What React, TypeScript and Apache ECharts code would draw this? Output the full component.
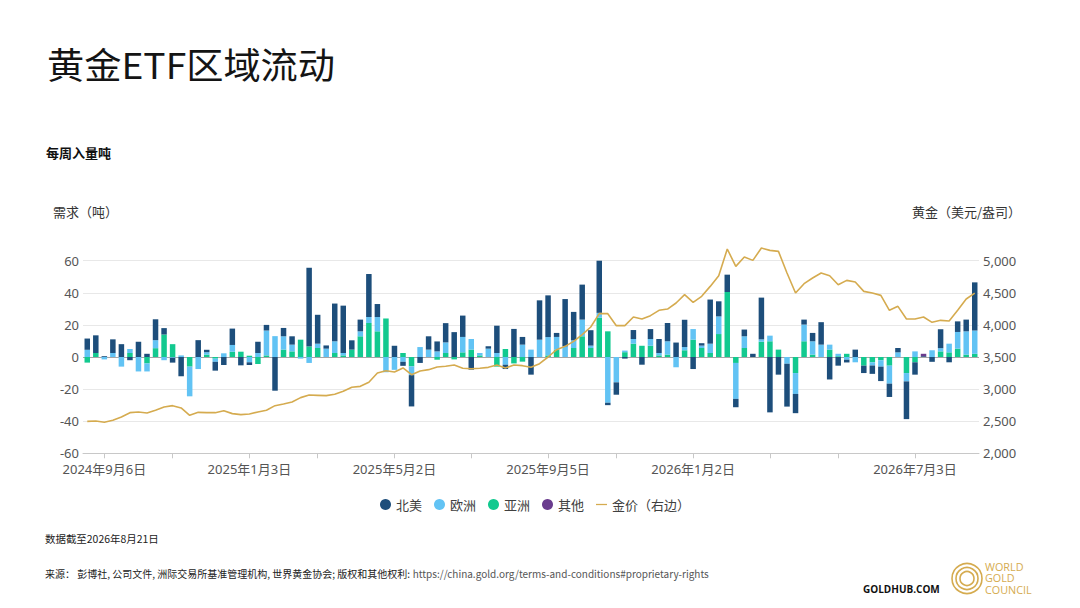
import React, { useEffect, useRef } from "react";
import * as echarts from "echarts";

// ---------- data ----------
const firstWeek = Date.UTC(2024, 7, 23); // 2024-08-23, weekly observations
const weekCount = 105;
const categories: string[] = Array.from({ length: weekCount }, (_, i) => {
  const d = new Date(firstWeek + i * 7 * 86400000);
  return `${d.getUTCFullYear()}年${d.getUTCMonth() + 1}月${d.getUTCDate()}日`;
});

const xTickDates = [
  "2024年9月6日", "2024年11月1日", "2025年1月3日", "2025年2月28日", "2025年5月2日", "2025年7月4日",
  "2025年9月5日", "2025年10月31日", "2026年1月2日", "2026年3月6日", "2026年5月1日", "2026年7月3日",
];
const xLabelDates = ["2024年9月6日", "2025年1月3日", "2025年5月2日", "2025年9月5日", "2026年1月2日", "2026年7月3日"];

const northAmerica = [
  7, 11, 0.5, 8.5, 8, -2, 9.5, 2, 13, 4,
  -3, -12, 0, 10.5, 1.5, -5.5, -5, 10.2, -5.2, -1.7,
  7, 3.5, -21, 5.2, 5.2, 0, 49, 18, 2, 23.5,
  29.5, 5.8, 7.3, 26.8, 8.1, 0, 7, -2.5, -19.5, -3.7,
  8.3, 6.2, 12, 15.5, 13.3, -7.9, 0, 1.5, 17, -2.7,
  17.5, 4.8, -11, 24.5, 26, 2.5, 29.5, 17.7, 21.8, 9.6,
  36, -1.5, -7.7, -1, 5.6, -4.8, 6.2, 8.7, 11.4, 9,
  17, -7.5, 1.5, 27.5, 9.4, 10.8, -5.2, 4.2, 2, 26,
  -34.5, -11, -26.7, -12, 3.1, 5.2, 14, -14, -5.4, -1.7,
  4.6, -4.6, -5.2, -9, -8.3, 2.7, -23.5, -7.7, 0.5, -3,
  11.8, -3.3, 6.6, 7.3, 30,
];
const europe = [
  4.5, 0, -1.5, 2.5, -6, 2.5, -9, -5, 5, -2,
  -0.5, 1, -18.5, -7.5, 1.5, -2, 2.3, 4.2, 0, -3.3,
  2.5, 15.5, 13, 8.3, 4.2, -1, -3.7, 2.7, 5.2, 7.3,
  1.5, 0, 3.1, 3.7, 8.9, -9.5, -8, -3, -5.5, 6.2,
  4.6, 3.5, 6.6, 0, 9.6, 6.6, 1.5, 5.2, 2.5, -4.8,
  0, 7.7, 4.6, 10.8, 11.4, 7.9, 6.6, 4.8, 10.4, 1.5,
  3, -28.5, -15.8, 1, 2.9, 0, 4.2, 1.5, 8.3, -6.4,
  2, 6.6, 1.5, 5.8, 11, 0, -22.4, 7.3, 0, 1.5,
  3.5, 0, -4.2, -13, 10.4, 8.3, 7.7, 3.1, 1.5, -1.7,
  -3.3, 0, -2, -4, -11.2, 2.9, -5.2, 3.5, 0, 4.2,
  2, 5.4, 10.4, 14.5, 14.5,
];
const asia = [
  -3.5, 2.5, 0, 0, 0, 2.5, 0, -4, 5.5, 14,
  8, 0, -6, 0, 1.5, -1, 0, 3.3, 3.3, 0.8,
  -4.4, 1, 0, 4.6, 3.5, 10.8, 6.6, 5.6, 0, 2.5,
  1, 4.6, 12.9, 21.2, 16, 24, 0, 2.5, -5.8, 0,
  0, -1.7, 2.5, -1.5, 2.9, 4.6, 1, 0, -6, 5,
  -4, -2.9, 0, 0, 1, 4.6, 0, 5.6, 12.9, 5.6,
  24.5, 16, 0, 3, 8.3, 7, 7, 1, 1.5, 0,
  4.2, 10.8, 5.6, 2.5, 14.3, 40.5, -3.7, 5.6, 0, 9.5,
  9.8, 4.6, 0, -10, 9.8, 1.5, 0, 4.6, 0.5, 2,
  0, -5.4, -3.3, -2, -5.4, 0, -10, -3.3, 0, 0,
  3.5, 2.9, 5.2, 1.5, 2,
];
const other = [
  0, 0, 0, 0, 0, 0, 0, 0, 0, 0,
  0, 0, 0, 0, 0, 0, 0, 0, 0, 0,
  0, 0, 0, 0, 0, 0, 0, 0, 0, 0,
  0, 0, 0, 0, 0, 0, 0, 0, 0, 0,
  0, 0, 0, 0, 0, 0, 0, 0, 0, 0,
  0, 0, 0, 0, 0, 0, 0, 0, 0, 0,
  0, 0, 0, 0, 0, 0, 0, 0, 0, 0,
  0, 0, 0, 0, 0, 0, 0, 0, 0, 0,
  0, 0, 0, 0, 0, 0, 0, 0, 0, 0,
  0, 0, 0, 0, 0, 0, 0, 0, 1.5, 0,
  0, 0, 0, 0, 0,
];
const goldPrice = [
  2498, 2503, 2483, 2514, 2566, 2633, 2644, 2628, 2670, 2721,
  2742, 2706, 2592, 2638, 2633, 2633, 2664, 2618, 2602, 2612,
  2644, 2670, 2742, 2768, 2800, 2867, 2908, 2903, 2898, 2919,
  2965, 3028, 3043, 3106, 3250, 3287, 3266, 3329, 3225, 3282,
  3303, 3344, 3355, 3375, 3324, 3318, 3324, 3339, 3375, 3329,
  3375, 3365, 3339, 3396, 3500, 3614, 3666, 3744, 3848, 3967,
  4175, 4175, 3988, 3988, 4123, 4092, 4144, 4227, 4247, 4341,
  4471, 4351, 4445, 4600, 4766, 5182, 4912, 5057, 5005, 5197,
  5161, 5145, 4808, 4496, 4642, 4730, 4808, 4766, 4626, 4694,
  4668, 4522, 4496, 4460, 4227, 4289, 4092, 4092, 4123, 4040,
  4071, 4061, 4227, 4403, 4496,
];

const titleText = "黄金ETF区域流动";
const subtitleText = "每周入量吨";
const leftAxisName = "需求（吨）";
const rightAxisName = "黄金（美元/盎司）";
const dataNote = "数据截至2026年8月21日";
const sourceText = "来源： 彭博社, 公司文件, 洲际交易所基准管理机构, 世界黄金协会; 版权和其他权利: ";
const sourceUrl = "https://china.gold.org/terms-and-conditions#proprietary-rights";
const logoLines = ["WORLD", "GOLD", "COUNCIL"];

// ---------- styles ----------
const CJK = "'Noto Sans CJK SC', 'Noto Sans', sans-serif";
const NUM = "'Noto Sans', 'Noto Sans CJK SC', sans-serif";
const LATIN = "'Open Sans', 'Noto Sans', sans-serif";
const C_NA = "#1d4e7b";
const C_EU = "#62c3f4";
const C_ASIA = "#12c98f";
const C_OTHER = "#6a3c8e";
const C_GOLD = "#d5ab4f";

function measure(text: string, font: string): number {
  const ctx = document.createElement("canvas").getContext("2d");
  if (!ctx) return text.length * 10;
  ctx.font = font;
  return ctx.measureText(text).width;
}

export default function App() {
  const ref = useRef<HTMLDivElement>(null);

  useEffect(() => {
    if (!ref.current) return;
    const chart = echarts.init(ref.current, undefined, { renderer: "svg" });

    const titleW = measure(titleText, `36px "Noto Sans CJK SC"`);
    const titleScale = 288 / titleW;
    const noteW = measure(dataNote, `10.5px "Noto Sans CJK SC"`);
    const noteScale = 114 / noteW;
    const srcW1 = measure(sourceText, `10.5px "Noto Sans CJK SC"`);
    const srcW2 = measure(sourceUrl, `10.5px "Noto Sans CJK SC"`);
    const srcScale = 664 / (srcW1 + srcW2);

    const tickSet = new Set(xTickDates);
    const labelSet = new Set(xLabelDates);

    const barBase = {
      type: "bar" as const,
      stack: "flows",
      barWidth: 5.5,
      xAxisIndex: 0,
      yAxisIndex: 0,
    };

    const logoTexts = logoLines.map((t, k) => ({
      type: "text",
      x: 985,
      y: 567 + k * 11.5,
      scaleX: 1.08,
      style: { text: t, fontSize: 10, fontFamily: LATIN, fill: C_GOLD, verticalAlign: "middle" },
    }));

    const option: any = {
      animation: false,
      backgroundColor: "#ffffff",
      grid: { left: 83, right: 101, top: 260.7, bottom: 154.7, containLabel: false },
      legend: {
        left: 375,
        top: 493,
        itemWidth: 11,
        itemHeight: 11,
        itemGap: 12,
        textStyle: { fontSize: 13, color: "#404040", fontFamily: CJK },
        data: [
          { name: "北美", icon: "circle" },
          { name: "欧洲", icon: "circle" },
          { name: "亚洲", icon: "circle" },
          { name: "其他", icon: "circle" },
          { name: "金价（右边）", icon: "path://M0,0 L26,0 L26,3 L0,3 Z" },
        ],
      },
      xAxis: {
        type: "category",
        data: categories,
        boundaryGap: true,
        axisLine: { show: true, onZero: false, lineStyle: { color: "#c8c8c8" } },
        axisTick: {
          show: true,
          alignWithLabel: true,
          length: 5,
          lineStyle: { color: "#c8c8c8" },
          interval: (_i: number, v: string) => tickSet.has(v),
        },
        axisLabel: {
          interval: (_i: number, v: string) => labelSet.has(v),
          color: "#555555",
          fontSize: 13,
          fontFamily: NUM,
          margin: 9,
        },
        splitLine: { show: false },
      },
      yAxis: [
        {
          type: "value",
          min: -60,
          max: 60,
          interval: 20,
          position: "left",
          axisLine: { show: false },
          axisTick: { show: false },
          axisLabel: { color: "#555555", fontSize: 13, fontFamily: NUM, margin: 4 },
          splitLine: {
            show: true,
            lineStyle: {
              color: ["#e8e8e8", "#e8e8e8", "#e8e8e8", "#a6a6a6", "#e8e8e8", "#e8e8e8", "#e8e8e8"],
              width: 1,
            },
          },
        },
        {
          type: "value",
          min: 2000,
          max: 5000,
          interval: 500,
          position: "right",
          axisLine: { show: false },
          axisTick: { show: false },
          axisLabel: {
            color: "#555555",
            fontSize: 13,
            fontFamily: NUM,
            margin: 4,
            formatter: (v: number) => v.toLocaleString("en-US"),
          },
          splitLine: { show: false },
        },
      ],
      series: [
        { ...barBase, name: "亚洲", data: asia, itemStyle: { color: C_ASIA } },
        { ...barBase, name: "欧洲", data: europe, itemStyle: { color: C_EU } },
        { ...barBase, name: "北美", data: northAmerica, itemStyle: { color: C_NA } },
        { ...barBase, name: "其他", data: other, itemStyle: { color: C_OTHER } },
        {
          type: "line",
          name: "金价（右边）",
          data: goldPrice,
          yAxisIndex: 1,
          symbol: "none",
          smooth: false,
          clip: false,
          z: 5,
          lineStyle: { color: C_GOLD, width: 1.6 },
          itemStyle: { color: C_GOLD },
        },
      ],
      graphic: [
        {
          type: "text",
          x: 47,
          y: 64,
          scaleX: titleScale,
          style: {
            text: titleText,
            fontSize: 36,
            fontFamily: CJK,
            fill: "#141414",
            verticalAlign: "middle",
            align: "left",
          },
        },
        {
          type: "text",
          x: 46,
          y: 152,
          style: {
            text: subtitleText,
            fontSize: 13,
            fontWeight: "bold",
            fontFamily: CJK,
            fill: "#111111",
            verticalAlign: "middle",
          },
        },
        {
          type: "text",
          x: 53,
          y: 211,
          style: { text: leftAxisName, fontSize: 13, fontFamily: CJK, fill: "#333333", verticalAlign: "middle" },
        },
        {
          type: "text",
          x: 1021,
          y: 211,
          style: {
            text: rightAxisName,
            fontSize: 13,
            fontFamily: CJK,
            fill: "#333333",
            verticalAlign: "middle",
            align: "right",
          },
        },
        {
          type: "text",
          x: 45,
          y: 538,
          scaleX: noteScale,
          style: { text: dataNote, fontSize: 10.5, fontFamily: CJK, fill: "#222222", verticalAlign: "middle" },
        },
        {
          type: "text",
          x: 45,
          y: 573,
          scaleX: srcScale,
          style: { text: sourceText, fontSize: 10.5, fontFamily: CJK, fill: "#222222", verticalAlign: "middle" },
        },
        {
          type: "text",
          x: 45 + srcW1 * srcScale,
          y: 573,
          scaleX: srcScale,
          style: { text: sourceUrl, fontSize: 10.5, fontFamily: CJK, fill: "#555555", verticalAlign: "middle" },
        },
        {
          type: "text",
          x: 863,
          y: 589,
          style: {
            text: "GOLDHUB.COM",
            fontSize: 10,
            fontWeight: "bold",
            fontFamily: LATIN,
            fill: "#111111",
            verticalAlign: "middle",
          },
        },
        {
          type: "circle",
          shape: { cx: 967, cy: 578.5, r: 15 },
          style: { fill: "none", stroke: C_GOLD, lineWidth: 1.6 },
        },
        {
          type: "circle",
          shape: { cx: 967, cy: 578.5, r: 11 },
          style: { fill: "none", stroke: C_GOLD, lineWidth: 1.6 },
        },
        {
          type: "circle",
          shape: { cx: 967, cy: 578.5, r: 7 },
          style: { fill: "none", stroke: C_GOLD, lineWidth: 1.6 },
        },
        ...logoTexts,
      ],
    };

    chart.setOption(option);
    return () => {
      chart.dispose();
    };
  }, []);

  return (
    <div
      ref={ref}
      style={{ position: "fixed", left: 0, top: 0, width: 1080, height: 608, background: "#ffffff" }}
    />
  );
}
